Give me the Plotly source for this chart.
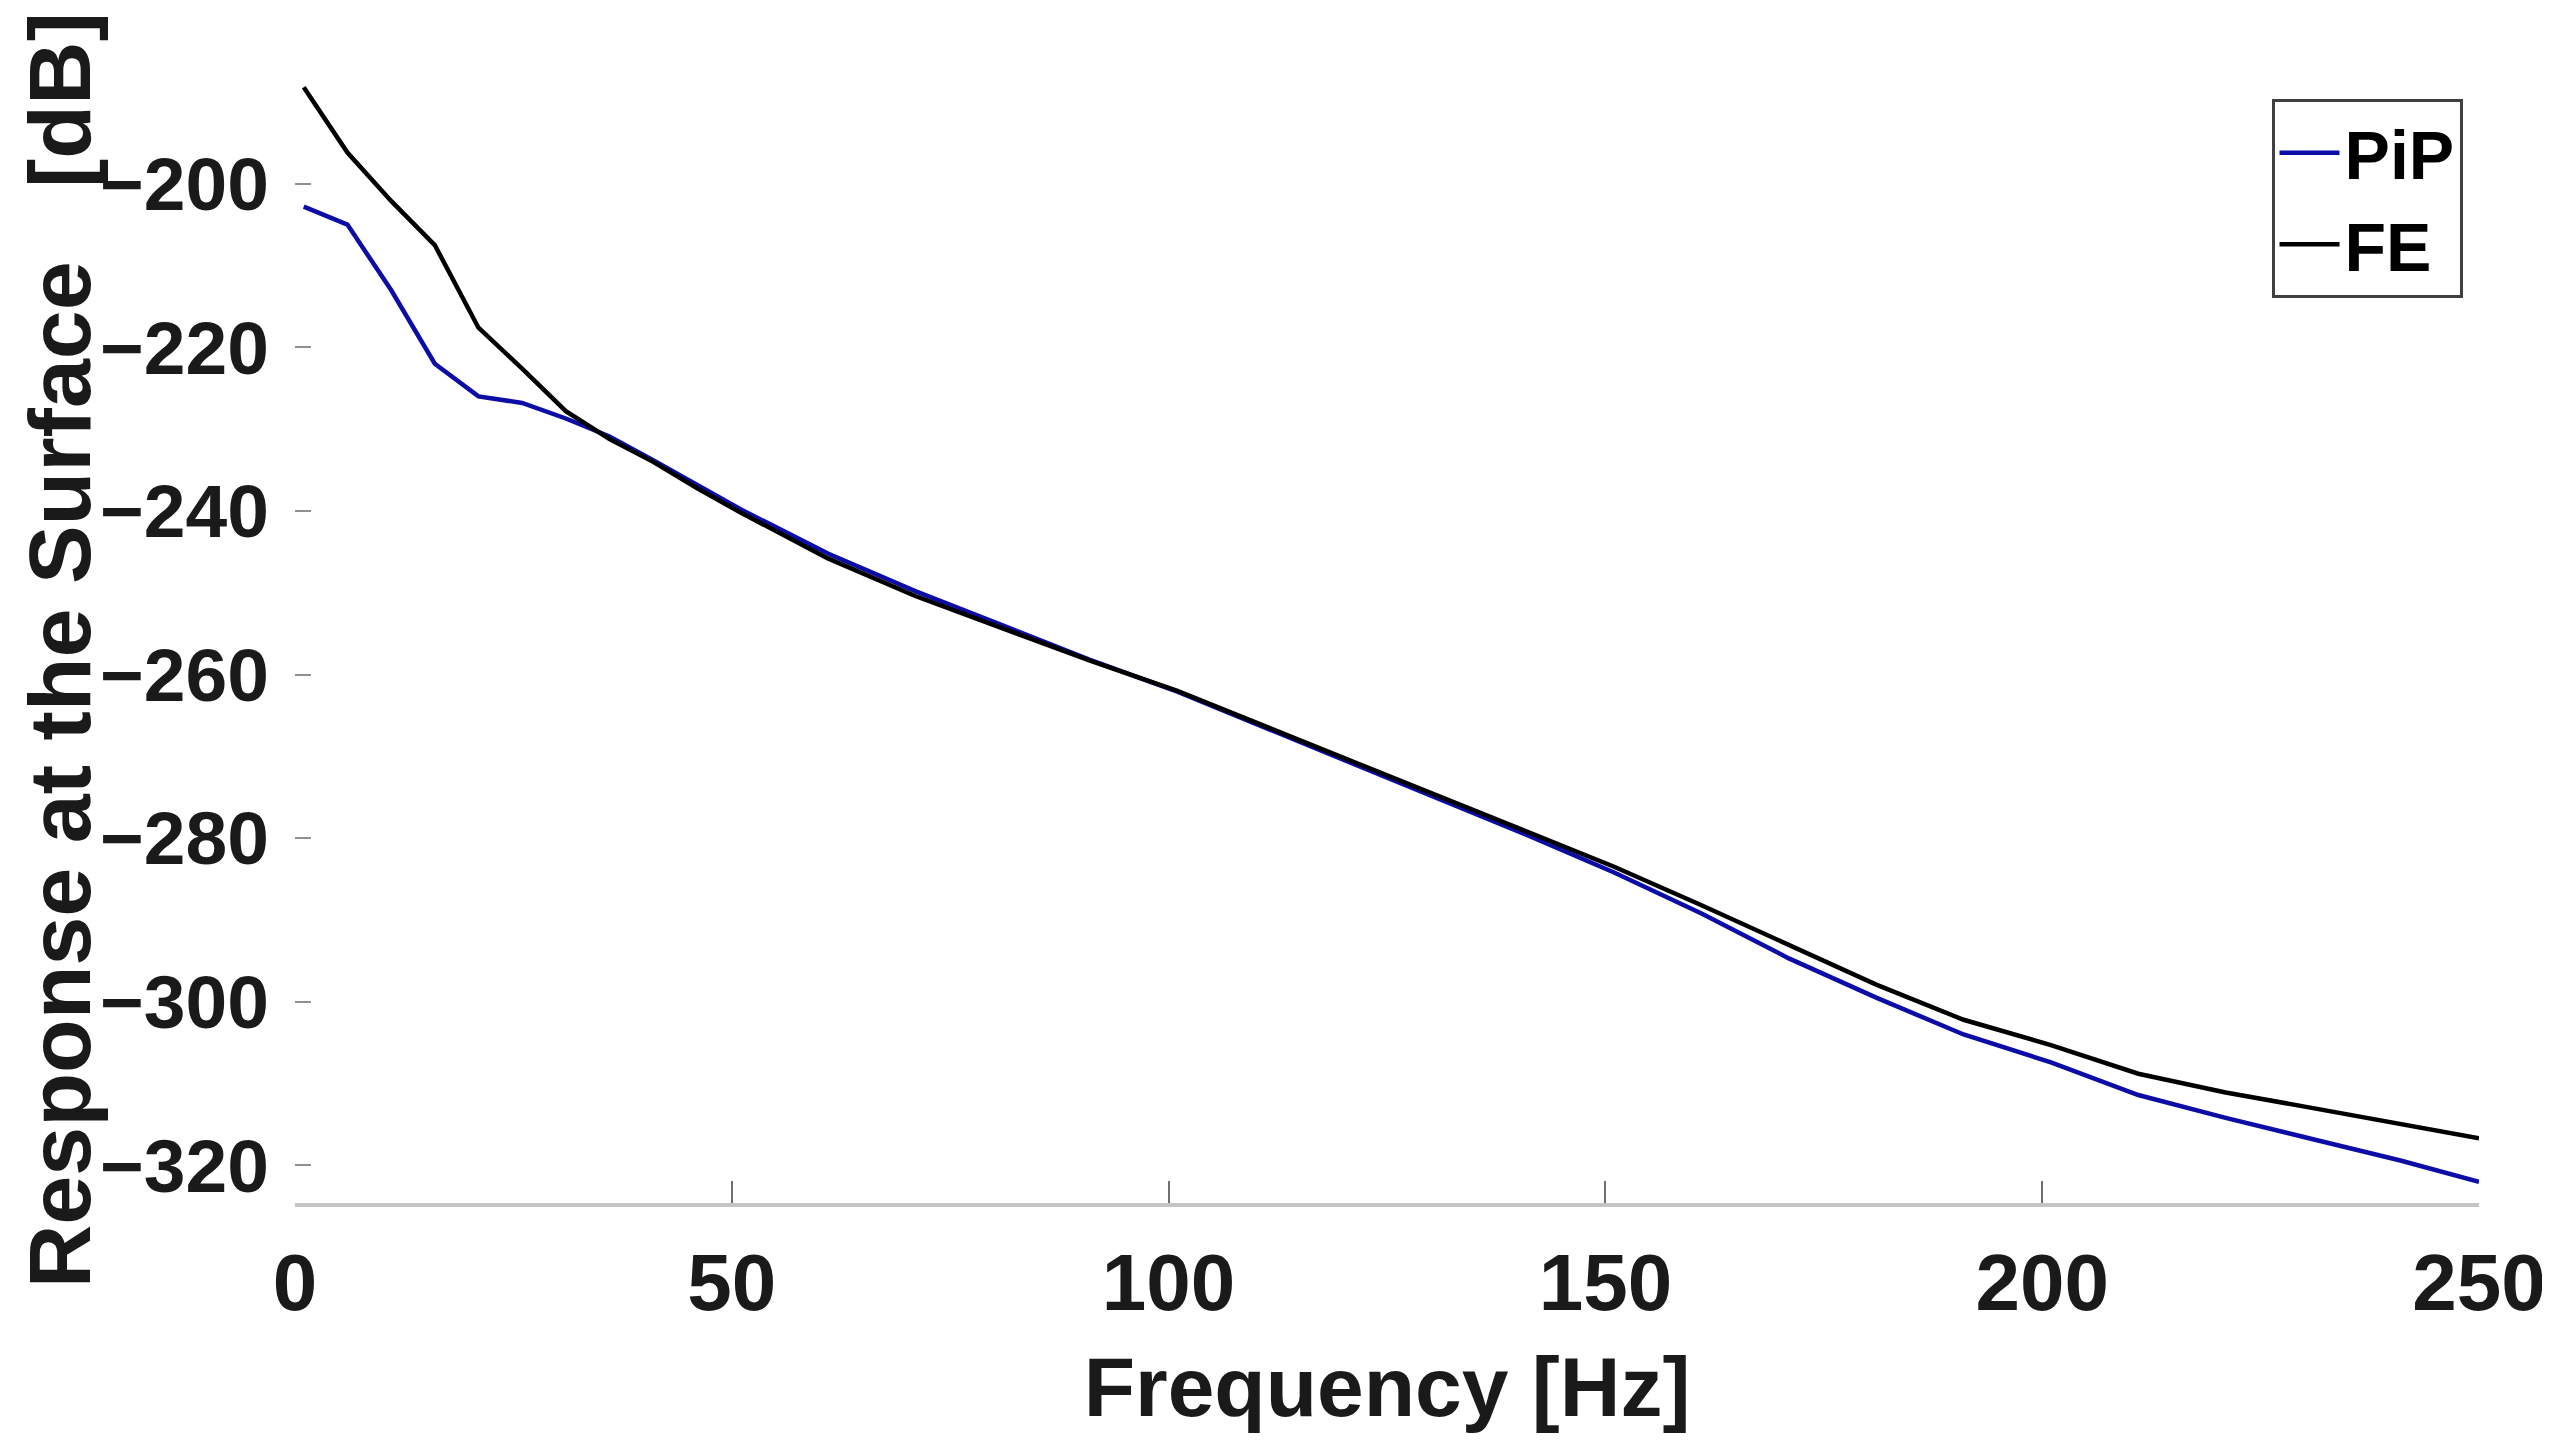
import plotly.graph_objects as go

freq = [1, 6, 11, 16, 21, 26, 31, 36, 41, 46, 51, 61, 71, 81, 91, 101, 111, 121,
        131, 141, 151, 161, 171, 181, 191, 201, 211, 221, 231, 241, 250]

pip_db = [-202.8, -205.0, -213.0, -222.0, -226.0, -226.8, -228.7, -230.9, -233.8,
          -236.8, -239.8, -245.2, -249.8, -254.0, -258.2, -262.1, -266.5, -270.8,
          -275.3, -279.6, -284.2, -289.2, -294.7, -299.5, -304.0, -307.4, -311.4,
          -314.2, -316.8, -319.4, -322.0]

fe_db = [-188.2, -196.2, -202.1, -207.5, -217.6, -222.6, -227.8, -231.2, -234.0,
         -237.2, -240.2, -245.8, -250.4, -254.3, -258.3, -262.0, -266.3, -270.6,
         -275.0, -279.2, -283.5, -288.2, -293.1, -297.9, -302.2, -305.3, -308.8,
         -311.1, -313.0, -314.9, -316.7]

x_ticks = [0, 50, 100, 150, 200, 250]
y_ticks = [-320, -300, -280, -260, -240, -220, -200]
y_tick_text = ["\u2212320", "\u2212300", "\u2212280", "\u2212260", "\u2212240", "\u2212220", "\u2212200"]

FONT = "Liberation Sans, Arial, sans-serif"

fig = go.Figure()
fig.add_trace(go.Scatter(x=freq, y=pip_db, mode="lines", name="PiP",
                         line=dict(color="#0c0ca6", width=4.5)))
fig.add_trace(go.Scatter(x=freq, y=fe_db, mode="lines", name="FE",
                         line=dict(color="#000000", width=4.5)))

fig.update_layout(
    width=2550, height=1447, autosize=False,
    margin=dict(l=287, r=77, t=53, b=252),
    paper_bgcolor="white", plot_bgcolor="white",
    showlegend=True,
    legend=dict(
        x=0.905, y=0.9667, xanchor="left", yanchor="top",
        bgcolor="white", bordercolor="#404040", borderwidth=3,
        font=dict(family=FONT, size=68, color="black", weight="bold"),
        itemwidth=60, tracegroupgap=0,
    ),
    xaxis=dict(
        range=[0, 250], tickvals=x_ticks,
        ticks="inside", ticklen=22, tickwidth=2, tickcolor="#707070",
        showline=True, linecolor="#c4c4c4", linewidth=4,
        showgrid=False, zeroline=False,
        tickfont=dict(family=FONT, size=80, color="#1a1a1a", weight="bold"),
        ticklabelstandoff=7,
        title=dict(text="Frequency [Hz]", standoff=32,
                   font=dict(family=FONT, size=84, color="#1a1a1a", weight="bold")),
    ),
    yaxis=dict(
        range=[-324.6, -185], tickvals=y_ticks, ticktext=y_tick_text,
        ticks="inside", ticklen=16, tickwidth=2, tickcolor="#909090",
        showline=False, showgrid=False, zeroline=False,
        tickfont=dict(family=FONT, size=75, color="#1a1a1a", weight="bold"),
        ticklabelstandoff=25,
    ),
    annotations=[dict(
        text="Response at the Surface\u00a0\u00a0 [dB]",
        xref="paper", yref="paper", x=-0.108, y=0.4841,
        xanchor="center", yanchor="middle", textangle=-90, showarrow=False,
        font=dict(family=FONT, size=88, color="#1a1a1a", weight="bold"),
    )],
)

fig.write_html("out.html")
